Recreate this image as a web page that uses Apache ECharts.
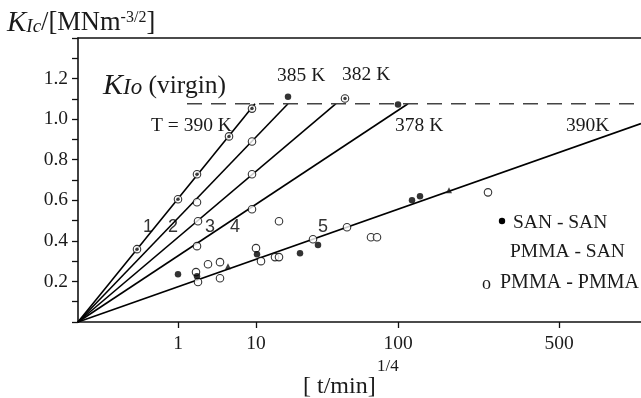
<!DOCTYPE html>
<html>
<head>
<meta charset="utf-8">
<script src="https://cdn.jsdelivr.net/npm/echarts@6/dist/echarts.min.js"></script>
<style>
  html, body { margin: 0; padding: 0; background: #fff; }
  #chart { width: 641px; height: 398px; }
</style>
</head>
<body>
<div id="chart"></div>
<script>
// x axis is t^(1/4) on a linear scale, y axis is K_Ic in MN m^-3/2
const xTickPos = [1.0, 1.78, 3.2, 4.81]
const xTickLabels = ['1', '10', '100', '500']
const xMax = 5.63
const yMax = 1.4
const kVirgin = 1.076

// ends of the fitted lines 1..5, every line starts at the origin
const lineEnds = [[1.77, 1.076], [2.10, 1.076], [2.58, 1.076], [3.30, 1.076], [5.63, 0.978]]

// SAN - SAN (filled dots)
const sanSan = [
  [2.10, 1.111], [3.20, 1.072], [1.00, 0.236], [1.19, 0.226], [1.79, 0.334],
  [2.22, 0.339], [2.40, 0.379], [3.34, 0.600], [3.42, 0.620]
]

// PMMA - PMMA (open circles)
const pmmaPmma = [
  [1.19, 0.590], [1.74, 0.728], [1.74, 0.890], [1.20, 0.497], [1.74, 0.556],
  [1.19, 0.374], [2.01, 0.497], [1.18, 0.246], [1.20, 0.197], [1.30, 0.285],
  [1.42, 0.295], [1.42, 0.216], [1.78, 0.364], [1.83, 0.300], [1.97, 0.320],
  [2.01, 0.320], [2.35, 0.408], [2.69, 0.467], [2.93, 0.418], [2.99, 0.418],
  [4.10, 0.639]
]

// PMMA - SAN (circles with a dot)
const pmmaSan = [
  [0.59, 0.359], [1.00, 0.605], [1.19, 0.728], [1.51, 0.915], [1.74, 1.052], [2.67, 1.102]
]

// small triangles
const triPoints = [[1.50, 0.275], [3.71, 0.649]]

const serif = 'Liberation Serif'
const sans = 'Liberation Sans'

const chart = echarts.init(document.getElementById('chart'))

const lineSeries = lineEnds.map(end => ({
  type: 'line',
  data: [[0, 0], end],
  symbol: 'none',
  silent: true,
  lineStyle: { color: '#000', width: 1.6 },
  z: 2
}))

function txt(text, x, y, size, opts = {}) {
  return {
    type: 'text',
    x: x,
    y: y,
    style: Object.assign({
      text: text,
      fontFamily: serif,
      fontSize: size,
      fill: '#1a1a1a',
      textAlign: 'left',
      textVerticalAlign: 'middle',
      align: 'left',
      verticalAlign: 'middle'
    }, opts)
  }
}

const option = {
  animation: false,
  backgroundColor: '#fff',
  grid: { left: 78, right: 0, top: 38, bottom: 76 },
  xAxis: [{
    type: 'value',
    min: 0,
    max: xMax,
    axisLine: { lineStyle: { color: '#111', width: 1.6 } },
    axisTick: { show: true, customValues: xTickPos, length: 6, lineStyle: { color: '#111', width: 1.3 } },
    axisLabel: {
      customValues: xTickPos,
      formatter: v => {
        const i = xTickPos.findIndex(p => Math.abs(p - v) < 1e-6)
        return i >= 0 ? xTickLabels[i] : ''
      },
      margin: 12,
      fontFamily: serif,
      fontSize: 19.5,
      color: '#1a1a1a'
    },
    splitLine: { show: false }
  }, {
    type: 'value',
    position: 'top',
    min: 0,
    max: xMax,
    axisLine: { show: true, onZero: false, lineStyle: { color: '#111', width: 1.6 } },
    axisTick: { show: false },
    axisLabel: { show: false },
    splitLine: { show: false }
  }],
  yAxis: {
    type: 'value',
    min: 0,
    max: yMax,
    interval: 0.2,
    axisLine: { show: true, lineStyle: { color: '#111', width: 1.6 } },
    axisTick: { show: true, length: 6, lineStyle: { color: '#111', width: 1.3 } },
    minorTick: { show: true, splitNumber: 2, length: 6, lineStyle: { color: '#111', width: 1.3 } },
    axisLabel: {
      formatter: v => (v > 0.05 && v < 1.3) ? v.toFixed(1) : '',
      margin: 10,
      fontFamily: serif,
      fontSize: 19.5,
      color: '#1a1a1a'
    },
    splitLine: { show: false }
  },
  series: [
    ...lineSeries,
    {
      type: 'line',
      data: [[1.09, kVirgin], [xMax, kVirgin]],
      symbol: 'none',
      silent: true,
      lineStyle: { color: '#444', width: 1.7, type: [15, 9] },
      z: 2
    },
    {
      type: 'scatter',
      data: pmmaPmma,
      symbol: 'circle',
      symbolSize: 7.5,
      itemStyle: { color: '#fff', borderColor: '#000', borderWidth: 1.1 },
      z: 3
    },
    {
      type: 'scatter',
      data: pmmaSan,
      symbol: 'circle',
      symbolSize: 7.5,
      itemStyle: { color: '#fff', borderColor: '#000', borderWidth: 1.1 },
      z: 3
    },
    {
      type: 'scatter',
      data: pmmaSan,
      symbol: 'circle',
      symbolSize: 3.5,
      itemStyle: { color: '#111' },
      z: 4
    },
    {
      type: 'scatter',
      data: sanSan,
      symbol: 'circle',
      symbolSize: 6.5,
      itemStyle: { color: '#000' },
      z: 4
    },
    {
      type: 'scatter',
      data: triPoints,
      symbol: 'triangle',
      symbolSize: 6,
      itemStyle: { color: '#111' },
      z: 4
    }
  ],
  graphic: [
    {
      type: 'text',
      x: 7,
      y: 23,
      style: {
        text: '{k|K}{s|Ic}{n|/[MNm}{p|-3/2}{n|]}',
        textVerticalAlign: 'middle',
        verticalAlign: 'middle',
        rich: {
          k: { fontFamily: serif, fontStyle: 'italic', fontSize: 29, lineHeight: 26, fill: '#1a1a1a', color: '#1a1a1a' },
          s: { fontFamily: serif, fontStyle: 'italic', fontSize: 19, lineHeight: 16, verticalAlign: 'bottom', fill: '#1a1a1a', color: '#1a1a1a' },
          n: { fontFamily: serif, fontSize: 26.5, lineHeight: 26, fill: '#1a1a1a', color: '#1a1a1a' },
          p: { fontFamily: serif, fontSize: 16, lineHeight: 14, verticalAlign: 'top', fill: '#1a1a1a', color: '#1a1a1a' }
        }
      }
    },
    {
      type: 'text',
      x: 103,
      y: 86,
      style: {
        text: '{k|K}{s|Io}{n| (virgin)}',
        textVerticalAlign: 'middle',
        verticalAlign: 'middle',
        rich: {
          k: { fontFamily: serif, fontStyle: 'italic', fontSize: 30, lineHeight: 26, fill: '#1a1a1a', color: '#1a1a1a' },
          s: { fontFamily: serif, fontStyle: 'italic', fontSize: 23, lineHeight: 17, verticalAlign: 'bottom', fill: '#1a1a1a', color: '#1a1a1a' },
          n: { fontFamily: serif, fontSize: 25.5, lineHeight: 26, fill: '#1a1a1a', color: '#1a1a1a' }
        }
      }
    },
    txt('385 K', 277, 76, 19.5),
    txt('382 K', 342, 75, 19.5),
    txt('T = 390 K', 151, 126, 19.5),
    txt('378 K', 395, 126, 19.5),
    txt('390K', 566, 126, 19.5),
    txt('1', 148, 227, 18, { fontFamily: sans, textAlign: 'center', align: 'center', fill: '#333' }),
    txt('2', 173, 227, 18, { fontFamily: sans, textAlign: 'center', align: 'center', fill: '#333' }),
    txt('3', 210, 227, 18, { fontFamily: sans, textAlign: 'center', align: 'center', fill: '#333' }),
    txt('4', 235, 227, 18, { fontFamily: sans, textAlign: 'center', align: 'center', fill: '#333' }),
    txt('5', 323, 227, 18, { fontFamily: sans, textAlign: 'center', align: 'center', fill: '#333' }),
    { type: 'circle', shape: { cx: 502, cy: 221, r: 3.2 }, style: { fill: '#000' } },
    txt('SAN - SAN', 513, 223, 19.5),
    txt('PMMA - SAN', 510, 252, 19.5),
    txt('o', 482, 284, 18),
    txt('PMMA - PMMA', 500, 283, 20),
    txt('[ t/min]', 303, 387, 24),
    txt('1/4', 377, 367, 17)
  ]
}

chart.setOption(option)
</script>
</body>
</html>
